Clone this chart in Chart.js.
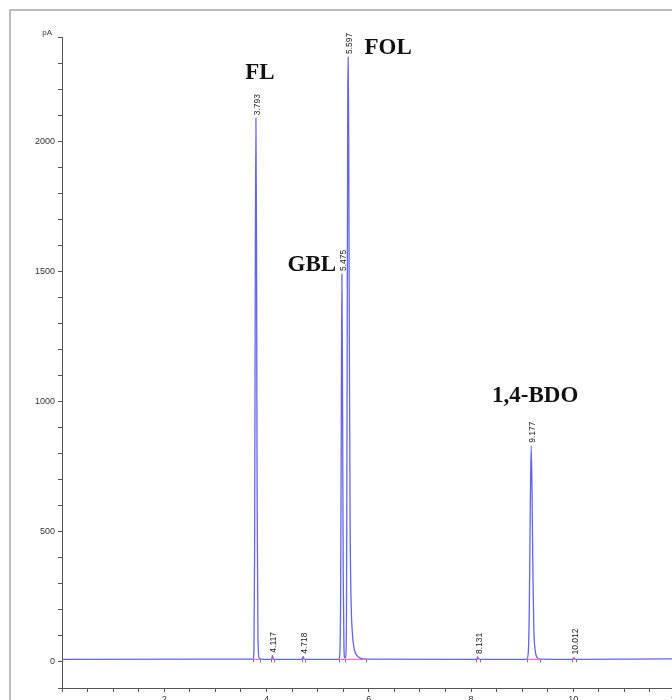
<!DOCTYPE html>
<html>
<head>
<meta charset="utf-8">
<script src="https://cdn.jsdelivr.net/npm/chart.js@4/dist/chart.umd.min.js"></script>
<style>
  html, body { margin: 0; padding: 0; background: #fff; overflow: hidden; }
  #wrap { position: absolute; left: 0; top: 0; width: 700px; height: 700px; }
</style>
</head>
<body>
<div id="wrap"><canvas id="gc" width="700" height="700"></canvas></div>
<script>
// detector trace (retention time in min, signal in pA)
const rt = [0, 3.735, 3.755, 3.768, 3.780, 3.793, 3.805, 3.817, 3.833, 3.865,
  4.09, 4.105, 4.117, 4.13, 4.15,
  4.69, 4.705, 4.718, 4.732, 4.75,
  5.41, 5.43, 5.45, 5.463, 5.475, 5.488, 5.50, 5.515, 5.53,
  5.55, 5.565, 5.578, 5.589, 5.597, 5.607, 5.62, 5.635, 5.655, 5.68, 5.715, 5.77, 5.85, 5.95,
  8.10, 8.12, 8.131, 8.145, 8.17,
  9.09, 9.12, 9.14, 9.16, 9.177, 9.195, 9.212, 9.23, 9.255, 9.29, 9.35,
  9.98, 10.0, 10.012, 10.025, 10.05,
  11.2, 12];
const signal = [10, 11, 50, 450, 1450, 2088, 1600, 620, 90, 12,
  10, 14, 24, 14, 10,
  10, 13, 20, 13, 10,
  10, 20, 250, 950, 1490, 1000, 350, 60, 16,
  18, 200, 1200, 2150, 2323, 2080, 1250, 550, 230, 110, 50, 24, 14, 11,
  10, 13, 19, 13, 10,
  10, 35, 200, 600, 830, 640, 320, 120, 45, 18, 11,
  10, 12, 17, 12, 10,
  11, 12];

// integrated peaks
const peakRt = [3.793, 4.117, 4.718, 5.475, 5.597, 8.131, 9.177, 10.012];
const peakTop = [2088, 24, 20, 1490, 2323, 19, 830, 17];
const intStart = [3.735, 4.09, 4.69, 5.41, 5.53, 8.10, 9.09, 9.98];
const intEnd = [3.865, 4.15, 4.75, 5.53, 5.95, 8.17, 9.35, 10.05];
const baseLevel = 10;

// compound names
const compounds = ['FL', 'GBL', 'FOL', '1,4-BDO'];
const compoundRt = [3.793, 5.475, 5.597, 9.177];

const trace = rt.map((t, i) => ({ x: t, y: signal[i] }));
const intLine = [];
intStart.forEach((s, i) => {
  intLine.push({ x: s, y: baseLevel }, { x: intEnd[i], y: baseLevel }, { x: intEnd[i], y: null });
});

const gcPlugin = {
  id: 'gcPlugin',
  beforeDraw(chart) {
    const c = chart.ctx;
    c.save();
    c.fillStyle = '#fff';
    c.fillRect(0, 0, chart.width, chart.height);
    c.strokeStyle = '#a8a8a8';
    c.lineWidth = 1.5;
    c.strokeRect(10, 10, chart.width + 20, chart.height + 20);
    c.fillStyle = '#333';
    c.font = '8px "Liberation Sans", Arial, sans-serif';
    c.textAlign = 'right';
    c.textBaseline = 'middle';
    c.fillText('pA', 52, 33);
    c.restore();
  },
  afterDatasetsDraw(chart) {
    const c = chart.ctx;
    const xs = chart.scales.x, ys = chart.scales.y;
    c.save();
    // peak start / end markers
    c.strokeStyle = '#777';
    c.lineWidth = 1;
    const yb = ys.getPixelForValue(baseLevel);
    intStart.concat(intEnd).forEach(t => {
      const px = Math.round(xs.getPixelForValue(t)) + 0.5;
      c.beginPath();
      c.moveTo(px, yb);
      c.lineTo(px, yb + 3);
      c.stroke();
    });
    // retention time labels
    c.fillStyle = '#222';
    c.font = '8.5px "Liberation Sans", Arial, sans-serif';
    c.textAlign = 'left';
    c.textBaseline = 'middle';
    peakRt.forEach((t, i) => {
      const px = xs.getPixelForValue(t) + 1.5;
      const py = ys.getPixelForValue(peakTop[i]) - 3;
      c.save();
      c.translate(px, py);
      c.rotate(-Math.PI / 2);
      c.fillText(t.toFixed(3), 0, 0);
      c.restore();
    });
    // compound names
    const offs = { 'FL': [4, -45], 'GBL': [-30, -9], 'FOL': [40, -9], '1,4-BDO': [4, -50] };
    c.fillStyle = '#111';
    c.font = 'bold 23px "Liberation Serif", "Times New Roman", serif';
    c.textAlign = 'center';
    compounds.forEach((name, i) => {
      const k = peakRt.indexOf(compoundRt[i]);
      const px = xs.getPixelForValue(compoundRt[i]) + offs[name][0];
      const py = ys.getPixelForValue(peakTop[k]) + offs[name][1];
      c.fillText(name, px, py);
    });
    c.restore();
  }
};

new Chart(document.getElementById('gc'), {
  type: 'line',
  data: {
    datasets: [
      {
        data: intLine,
        borderColor: 'rgb(255, 110, 200)',
        borderWidth: 1.2,
        pointRadius: 0,
        spanGaps: false,
        order: 0
      },
      {
        data: trace,
        borderColor: 'rgb(100, 100, 230)',
        borderWidth: 1.3,
        pointRadius: 0,
        cubicInterpolationMode: 'monotone',
        order: 1
      }
    ]
  },
  options: {
    responsive: false,
    animation: false,
    layout: { padding: { left: 10, top: 37, right: 24.5, bottom: 0 } },
    plugins: { legend: { display: false }, tooltip: { enabled: false } },
    scales: {
      x: {
        type: 'linear',
        min: 0,
        max: 12,
        afterFit: s => { s.height = 12; s.paddingLeft = 0; s.paddingRight = 0; },
        border: { display: true, color: '#555', width: 1 },
        grid: { drawOnChartArea: false, drawTicks: true, tickLength: 4, color: '#555' },
        ticks: {
          stepSize: 0.5,
          autoSkip: false,
          maxRotation: 0,
          padding: 2,
          color: '#333',
          font: { family: '"Liberation Sans", Arial, sans-serif', size: 9 },
          callback: v => (v > 0 && v % 2 === 0) ? String(v) : ''
        }
      },
      y: {
        min: -100,
        max: 2400,
        afterFit: s => { s.width = 52; s.paddingTop = 0; s.paddingBottom = 0; },
        border: { display: true, color: '#555', width: 1 },
        grid: { drawOnChartArea: false, drawTicks: true, tickLength: 4, color: '#555' },
        ticks: {
          stepSize: 100,
          autoSkip: false,
          padding: 3,
          color: '#333',
          font: { family: '"Liberation Sans", Arial, sans-serif', size: 9 },
          callback: v => (v >= 0 && v % 500 === 0) ? String(v) : ''
        }
      }
    }
  },
  plugins: [gcPlugin]
});
</script>
</body>
</html>
